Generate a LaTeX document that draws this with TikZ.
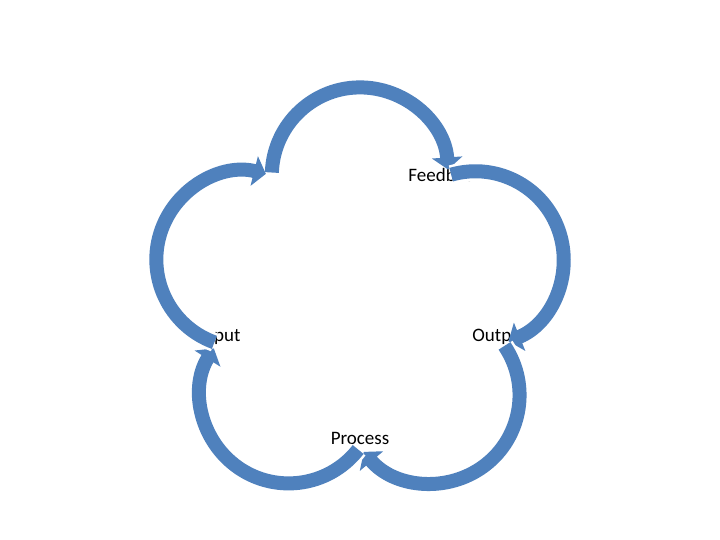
\documentclass[tikz,border=0pt]{standalone}
\usepackage{fontspec}
\setmainfont{Carlito}
\usetikzlibrary{arrows.meta}
\definecolor{arcblue}{RGB}{79,129,189}
\tikzset{
  lbl/.style={font=\fontsize{19}{22}\selectfont, text=black},
  halo/.style={draw=white, line width=19pt, -{Triangle[length=16pt,width=36pt]}},
  cyc/.style={draw=arcblue, line width=14pt, -{Triangle[length=12pt,width=30pt]}}
}
\begin{document}
\begin{tikzpicture}[x=1pt,y=1pt]
\useasboundingbox (0,0) rectangle (720,540);
\coordinate (c) at (360,243);
\foreach \i/\t in {1/126,2/54,3/-18,4/-90,5/198}{
  \path (c) ++(\t:150) coordinate (v\i);
}
\node[lbl] (fb) at (445,365) {Feedback};
\node[lbl] (out) at (500,203) {Output};
\node[lbl] (proc) at (360,102) {Process};
\node[lbl] (inp) at (220,203) {Input};
\node[lbl] (emp) at (268,365) {};
\foreach \i/\t in {1/126,2/54,3/-18,4/-90,5/198}{
  \path (c) ++(\t:150) ++(\t+54+2:88.2) ++(\t+54+2+180:88.2) coordinate (s\i);
  \path (v\i) -- +(0,0);
}
\foreach \i/\t in {1/126,2/54,3/-18,4/-90,5/198}{
  \path (c) ++(\t-36:121.4) coordinate (m\i);
  \path (m\i) ++(\t+54-2:88.2) coordinate (a\i);
  \draw[halo] (a\i) arc[start angle=\t+54-2, delta angle=-174, radius=88.2];
  \draw[cyc] (a\i) arc[start angle=\t+54-2, delta angle=-174, radius=88.2];
}
\end{tikzpicture}
\end{document}
